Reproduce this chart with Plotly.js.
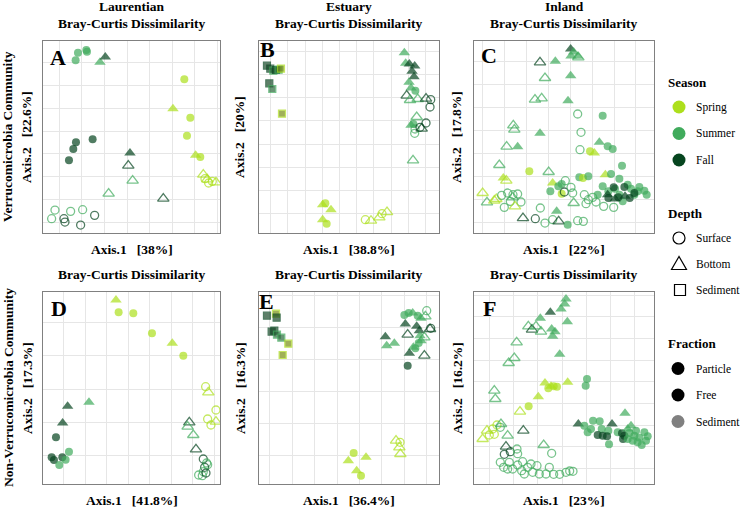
<!DOCTYPE html>
<html><head><meta charset="utf-8">
<script src="https://cdn.plot.ly/plotly-3.0.1.min.js"></script>
<style>html,body{margin:0;padding:0;background:#fff}#chart{width:740px;height:510px}</style>
</head><body><div id="chart"></div>
<script>
// Season codes: Sp = Spring, Su = Summer, Fa = Fall
// Kind codes: SP = Surface/Particle, BP = Bottom/Particle, SF = Surface/Free, BF = Bottom/Free, SD = Sediment
const A_x = [-0.166,-0.141,-0.139,-0.173,-0.100,-0.084,0.153,0.171,0.161,0.201,0.119,0.187,-0.172,-0.180,-0.122,-0.193,-0.010,-0.015,-0.002,-0.074,0.090,0.210,0.222,0.248,0.215,0.226,0.237,-0.235,-0.245,-0.188,-0.152,-0.208,-0.205,-0.158,-0.116];
const A_y = [0.256,0.264,0.259,0.233,0.227,0.243,0.176,0.061,0.007,-0.057,0.088,-0.052,-0.013,-0.033,-0.004,-0.067,-0.045,-0.083,-0.128,-0.167,-0.182,-0.110,-0.124,-0.133,-0.122,-0.135,-0.130,-0.216,-0.242,-0.220,-0.215,-0.242,-0.252,-0.261,-0.232];
const A_season = ['Su','Su','Su','Su','Su','Fa','Sp','Sp','Sp','Sp','Sp','Sp','Fa','Fa','Fa','Fa','Fa','Fa','Su','Su','Fa','Sp','Sp','Sp','Sp','Sp','Sp','Su','Su','Su','Su','Fa','Fa','Fa','Fa'];
const A_kind = ['SP','SP','SP','SP','BP','BP','SP','SP','SP','SP','BP','BP','SP','SP','SP','SP','BP','BF','BF','BF','BF','BF','BF','BF','SF','SF','SF','SF','SF','SF','SF','SF','SF','SF','SF'];

const B_x = [-0.247,-0.237,-0.228,-0.220,-0.212,-0.205,-0.240,-0.231,-0.202,0.165,0.169,0.180,0.196,0.188,0.194,0.179,0.198,0.185,0.172,0.182,0.205,0.230,0.244,0.242,0.202,0.185,0.192,0.197,0.196,0.230,0.217,0.212,0.191,-0.080,-0.072,-0.055,-0.080,-0.068,0.048,0.065,0.090,0.098,0.113];
const B_y = [0.217,0.208,0.202,0.204,0.205,0.208,0.164,0.147,0.073,0.256,0.224,0.222,0.216,0.200,0.184,0.167,0.142,0.150,0.127,0.114,0.117,0.118,0.115,0.093,0.063,0.038,0.042,0.027,0.014,0.045,0.028,0.032,-0.067,-0.200,-0.196,-0.215,-0.245,-0.257,-0.245,-0.248,-0.238,-0.227,-0.222];
const B_season = ['Fa','Fa','Su','Fa','Su','Sp','Fa','Su','Sp','Su','Su','Fa','Fa','Fa','Fa','Su','Su','Su','Fa','Su','Su','Fa','Fa','Fa','Su','Su','Su','Su','Su','Fa','Fa','Fa','Su','Sp','Sp','Sp','Sp','Sp','Sp','Sp','Sp','Sp','Sp'];
const B_kind = ['SD','SD','SD','SD','SD','SD','SD','SD','SD','BP','BP','BP','BP','BP','BP','BP','SP','BP','BF','BF','BF','BF','SF','SF','BF','BP','SP','SF','SF','SF','BF','SF','BF','BP','SP','BP','BP','SP','SF','BF','BF','SF','BF'];

const C_x = [0.019,0.028,0.020,0.040,0.042,-0.073,-0.027,-0.058,0.019,-0.088,-0.068,0.011,0.040,0.115,-0.153,-0.150,-0.073,0.050,-0.173,-0.140,0.047,0.105,0.130,0.145,0.077,0.090,-0.195,-0.105,-0.047,0.173,-0.183,-0.174,0.003,0.045,0.056,0.072,0.123,0.140,0.165,-0.035,-0.042,-0.018,-0.008,-0.008,0.000,0.020,0.025,0.115,0.132,0.152,0.190,0.200,0.220,0.240,0.247,0.225,0.210,0.165,0.100,0.175,0.148,0.180,0.162,0.196,0.210,0.130,0.182,0.152,0.132,0.060,0.072,0.095,0.118,0.148,0.065,0.085,0.028,-0.245,-0.232,-0.210,-0.204,-0.188,-0.170,-0.154,-0.140,-0.162,-0.180,-0.155,-0.130,-0.148,-0.124,-0.087,-0.072,-0.023,-0.035,-0.058,-0.017,0.010,0.040,0.057];
const C_y = [0.267,0.258,0.246,0.245,0.242,0.227,0.230,0.180,0.187,0.115,0.119,0.112,0.072,0.067,0.038,0.025,0.014,0.017,-0.026,-0.026,-0.035,-0.013,-0.025,-0.033,-0.040,-0.045,-0.081,-0.100,-0.102,-0.083,-0.120,-0.128,-0.128,-0.118,-0.120,-0.115,-0.110,-0.108,-0.122,-0.135,-0.160,-0.145,-0.138,-0.167,-0.162,-0.148,-0.165,-0.145,-0.160,-0.152,-0.140,-0.152,-0.160,-0.158,-0.170,-0.147,-0.170,-0.170,-0.170,-0.190,-0.148,-0.147,-0.178,-0.180,-0.165,-0.170,-0.175,-0.183,-0.180,-0.170,-0.185,-0.192,-0.205,-0.208,-0.197,-0.178,-0.195,-0.165,-0.193,-0.188,-0.183,-0.172,-0.165,-0.170,-0.168,-0.190,-0.208,-0.178,-0.192,-0.205,-0.240,-0.242,-0.210,-0.220,-0.245,-0.255,-0.250,-0.260,-0.248,-0.250];
const C_season = ['Fa','Su','Su','Su','Su','Fa','Su','Su','Su','Su','Su','Su','Su','Su','Su','Su','Su','Su','Su','Su','Su','Su','Su','Su','Sp','Sp','Su','Sp','Su','Su','Sp','Sp','Su','Su','Sp','Su','Sp','Su','Su','Sp','Su','Su','Su','Sp','Fa','Su','Su','Su','Su','Su','Su','Su','Su','Su','Su','Su','Su','Su','Su','Su','Fa','Fa','Fa','Fa','Fa','Fa','Fa','Fa','Fa','Su','Su','Su','Su','Su','Su','Su','Su','Sp','Su','Sp','Sp','Su','Su','Su','Su','Su','Su','Su','Su','Sp','Fa','Fa','Su','Su','Su','Su','Fa','Su','Su','Su'];
const C_kind = ['BP','BP','BP','BP','BF','BF','BP','BF','BP','BF','BF','BP','SF','SP','BF','BF','BP','SF','BF','BP','SF','BP','SP','SP','SP','BP','BF','SP','BF','SP','BP','BF','SF','SP','SP','SP','BP','SP','SP','BP','SP','SP','SP','SP','SF','SF','SF','SP','SP','SP','SP','SP','SP','SP','SP','SP','SP','SP','SP','SP','SP','SP','SP','SP','SP','BP','BP','BP','SP','SF','SF','SF','SF','SF','SF','SF','BF','BF','BF','BF','BF','SF','SF','SF','SF','SF','SF','BF','SF','BF','BF','SF','SF','BP','SF','SF','BF','SP','SF','SF'];

const D_x = [-0.052,-0.044,0.000,0.056,0.117,0.150,0.217,0.225,0.248,0.223,0.233,0.248,-0.133,-0.197,-0.212,-0.232,-0.245,-0.238,-0.213,-0.193,-0.203,-0.222,0.168,0.163,0.180,0.188,0.210,0.220,0.214,0.210,0.196,0.207,0.218,0.223];
const D_y = [0.267,0.230,0.227,0.167,0.137,0.100,0.007,-0.010,-0.063,-0.090,-0.108,-0.098,-0.040,-0.052,-0.102,-0.145,-0.205,-0.213,-0.205,-0.188,-0.212,-0.228,-0.100,-0.113,-0.138,-0.181,-0.210,-0.222,-0.235,-0.248,-0.258,-0.260,-0.252,-0.227];
const D_season = ['Sp','Sp','Sp','Sp','Sp','Sp','Sp','Sp','Sp','Sp','Sp','Sp','Su','Fa','Fa','Fa','Fa','Fa','Fa','Su','Su','Su','Fa','Su','Su','Fa','Fa','Su','Fa','Su','Su','Su','Fa','Su'];
const D_kind = ['BP','SP','SP','SP','BP','SP','SF','BF','SF','SF','SF','BF','BP','BP','BP','SP','SP','SP','SP','SP','SP','SP','BF','BF','BF','BF','SF','SF','SF','SF','SF','SF','SF','SF'];

const E_x = [-0.247,-0.220,-0.218,-0.233,-0.225,-0.217,-0.204,-0.183,-0.200,0.165,0.178,0.190,0.205,0.215,0.232,0.228,0.168,0.202,0.210,0.175,0.242,0.244,0.212,0.225,0.215,0.208,0.108,0.112,0.135,0.192,0.180,0.225,0.175,0.198,0.013,-0.003,0.050,0.022,0.035,0.140,0.152,0.150,0.153];
const E_y = [0.220,0.226,0.214,0.172,0.175,0.163,0.154,0.136,0.102,0.222,0.228,0.228,0.220,0.212,0.235,0.218,0.195,0.188,0.175,0.163,0.180,0.182,0.160,0.155,0.145,0.138,0.157,0.130,0.137,0.125,0.107,0.100,0.070,0.122,-0.192,-0.215,-0.205,-0.245,-0.260,-0.155,-0.160,-0.175,-0.195];
const E_season = ['Fa','Sp','Fa','Fa','Fa','Su','Su','Sp','Sp','Su','Su','Su','Su','Su','Su','Su','Fa','Fa','Fa','Fa','Fa','Fa','Su','Su','Su','Su','Fa','Su','Su','Su','Fa','Fa','Fa','Su','Sp','Sp','Sp','Sp','Sp','Sp','Sp','Sp','Sp'];
const E_kind = ['SD','SD','SD','SD','SD','SD','SD','SD','SD','SP','SP','BP','SP','BP','SF','BF','BP','BP','BP','BF','BF','SF','BP','BF','BP','SP','BP','BP','BP','BP','BP','BF','SP','SP','SP','BP','BP','BP','SP','BF','SF','BF','BF'];

const F_x = [0.005,0.001,-0.010,0.009,-0.042,-0.072,-0.038,-0.028,-0.035,-0.014,-0.108,-0.097,-0.070,-0.085,-0.143,-0.150,-0.167,-0.058,-0.040,0.010,-0.048,-0.032,-0.022,0.068,0.064,-0.078,-0.107,-0.133,-0.210,-0.207,-0.245,-0.232,-0.215,-0.202,-0.210,-0.225,-0.190,-0.192,-0.170,-0.123,-0.062,-0.175,-0.180,-0.162,-0.142,-0.140,-0.038,-0.192,-0.182,-0.165,-0.155,-0.140,-0.125,-0.128,-0.110,-0.095,-0.082,-0.075,-0.055,-0.045,-0.032,-0.014,0.005,0.016,0.026,-0.100,-0.120,-0.170,0.042,0.060,0.070,0.086,0.106,0.112,0.132,0.134,0.160,0.100,0.115,0.128,0.173,0.176,0.180,0.143,0.182,0.200,0.195,0.210,0.225,0.240,0.245,0.220,0.205,0.190,0.232,0.250,0.215,0.190,0.080];
const F_y = [0.270,0.255,0.240,0.202,0.230,0.212,0.180,0.172,0.158,0.104,0.188,0.178,0.172,0.188,0.140,0.093,0.078,0.018,0.008,0.020,0.002,0.008,0.007,0.030,0.010,-0.023,-0.052,-0.068,-0.005,-0.030,-0.150,-0.125,-0.120,-0.108,-0.136,-0.138,-0.105,-0.115,-0.140,-0.125,-0.168,-0.173,-0.196,-0.188,-0.180,-0.194,-0.193,-0.220,-0.235,-0.220,-0.240,-0.228,-0.218,-0.245,-0.235,-0.250,-0.230,-0.255,-0.255,-0.235,-0.256,-0.256,-0.250,-0.246,-0.247,-0.225,-0.255,-0.240,-0.105,-0.110,-0.130,-0.095,-0.097,-0.120,-0.125,-0.166,-0.130,-0.138,-0.140,-0.142,-0.133,-0.150,-0.140,-0.105,-0.073,-0.110,-0.132,-0.140,-0.146,-0.130,-0.155,-0.160,-0.155,-0.150,-0.168,-0.142,-0.125,-0.120,-0.120];
const F_season = ['Su','Su','Su','Su','Fa','Su','Su','Su','Su','Su','Su','Fa','Su','Su','Su','Su','Su','Sp','Sp','Sp','Sp','Sp','Sp','Su','Su','Sp','Sp','Sp','Su','Su','Sp','Sp','Sp','Sp','Sp','Sp','Su','Su','Su','Fa','Su','Fa','Fa','Fa','Su','Su','Su','Su','Su','Su','Su','Su','Su','Su','Su','Su','Su','Su','Su','Su','Su','Su','Su','Su','Su','Su','Su','Su','Fa','Su','Su','Su','Su','Su','Su','Su','Su','Fa','Fa','Fa','Fa','Fa','Fa','Fa','Su','Su','Su','Su','Su','Su','Su','Su','Su','Su','Su','Su','Su','Su','Su'];
const F_kind = ['BP','BP','BP','BP','BP','BP','BP','BP','BP','BP','BF','BF','BF','BF','BF','BF','BF','BP','BP','BP','SP','SP','SP','SP','SP','BP','SP','BF','BF','BF','BF','BF','SF','SF','SF','SF','BF','SF','BF','BF','BF','BF','SF','SF','SF','SF','SF','SF','SF','SF','SF','SF','SF','SF','SF','SF','SF','SF','SF','SF','SF','SF','SF','SF','SF','SF','SF','SF','BP','SP','SP','SP','SP','SP','SP','SP','SP','SP','SP','SP','SP','SP','SP','BP','BP','BP','SP','SP','SP','SP','SP','SP','SP','SP','SP','SP','SP','BP','SP'];

const axisTitles = {
  A:['Axis.1   [38%]','Axis.2   [22.6%]'], B:['Axis.1   [38.8%]','Axis.2   [20%]'], C:['Axis.1   [22%]','Axis.2   [17.8%]'],
  D:['Axis.1   [41.8%]','Axis.2   [17.3%]'], E:['Axis.1   [36.4%]','Axis.2   [16.3%]'], F:['Axis.1   [23%]','Axis.2   [16.2%]']
};
const columnNames = ['Laurentian','Estuary','Inland'];
const rowNames = ['Verrucomicrobia Community','Non-Verrucomicrobia Community'];
const seasonLabels = ['Spring','Summer','Fall'];
const depthLabels = ['Surface','Bottom','Sediment'];
const fractionLabels = ['Particle','Free','Sediment'];

// ---- styling ----
const W = 740, H = 510;
const px = v => v / W, py = v => 1 - v / H;
const FONT = '"Liberation Serif", "Times New Roman", Times, serif';
const seasonColor = {Sp:'#addf1c', Su:'#40ab5c', Fa:'#06451f'};
const sedFill = {Sp:'#788f14', Su:'#2b6a3c', Fa:'#1b4a2b'};
const kindStyle = {
  SP:{sym:'circle', size:8, lw:0},
  BP:{sym:'triangle-up', size:10, lw:0},
  SF:{sym:'circle-open', size:8, lw:1.3},
  BF:{sym:'triangle-up-open', size:10, lw:1.3},
  SD:{sym:'square', size:7, lw:1.2}
};

const panels = [
  {id:'A', x:A_x, y:A_y, s:A_season, k:A_kind, box:[43.3,220.3,41.3,232.7], xr:[-0.270,0.261], yr:[-0.284,0.290], gx:[-0.222,0.0677], gy:[0.227,0.0687], lab:[57.5,57]},
  {id:'B', x:B_x, y:B_y, s:B_season, k:B_kind, box:[259.3,438.7,41.3,232.7], xr:[-0.270,0.268], yr:[-0.284,0.290], gx:[-0.236,0.0516], gy:[0.259,0.0693], lab:[267,50]},
  {id:'C', x:C_x, y:C_y, s:C_season, k:C_kind, box:[474.3,653.7,41.3,232.7], xr:[-0.270,0.268], yr:[-0.284,0.290], gx:[-0.245,0.0657], gy:[0.229,0.069], lab:[489,55.5]},
  {id:'D', x:D_x, y:D_y, s:D_season, k:D_kind, box:[43.3,220.3,292,484], xr:[-0.270,0.261], yr:[-0.285,0.291], gx:[-0.208,0.0643], gy:[0.200,0.100], lab:[59,308]},
  {id:'E', x:E_x, y:E_y, s:E_season, k:E_kind, box:[259.3,438.7,292,484], xr:[-0.270,0.268], yr:[-0.285,0.291], gx:[-0.238,0.067], gy:[0.185,0.096], lab:[266,301]},
  {id:'F', x:F_x, y:F_y, s:F_season, k:F_kind, box:[474.3,653.7,292,484], xr:[-0.270,0.268], yr:[-0.285,0.291], gx:[-0.225,0.0727], gy:[0.217,0.065], lab:[489,308]}
];

const data = [];
const layout = {
  width: W, height: H, margin:{l:0,r:0,t:0,b:0},
  paper_bgcolor:'#fff', plot_bgcolor:'#fff', showlegend:false,
  font:{family:FONT, color:'#000'},
  annotations:[], shapes:[]
};
function ann(text, x, y, size, extra){
  layout.annotations.push(Object.assign({text:text, x:px(x), y:py(y), xref:'paper', yref:'paper',
    showarrow:false, xanchor:'center', yanchor:'middle', font:{family:FONT, size:size, color:'#000'}}, extra||{}));
}

panels.forEach((p, i) => {
  const n = i + 1, xa = 'x' + (n > 1 ? n : ''), ya = 'y' + (n > 1 ? n : '');
  const sym = [], size = [], col = [], lcol = [], lw = [];
  p.k.forEach((k, j) => {
    const st = kindStyle[k], s = p.s[j];
    sym.push(st.sym); size.push(st.size); lw.push(st.lw);
    col.push(k === 'SD' ? sedFill[s] : seasonColor[s]);
    lcol.push(seasonColor[s]);
  });
  data.push({type:'scatter', mode:'markers', x:p.x, y:p.y, xaxis:xa, yaxis:ya, hoverinfo:'skip',
    marker:{symbol:sym, size:size, color:col, line:{color:lcol, width:lw}}});
  const common = {showticklabels:false, ticks:'', zeroline:false, showline:true, mirror:true,
    linecolor:'#808080', linewidth:1, showgrid:true, gridcolor:'#e6e6e6', gridwidth:1, fixedrange:true, tickmode:'linear'};
  layout['xaxis' + (n > 1 ? n : '')] = Object.assign({}, common, {domain:[px(p.box[0]), px(p.box[1])], range:p.xr, anchor:ya, tick0:p.gx[0], dtick:p.gx[1]});
  layout['yaxis' + (n > 1 ? n : '')] = Object.assign({}, common, {domain:[py(p.box[3]), py(p.box[2])], range:p.yr, anchor:xa, tick0:p.gy[0], dtick:p.gy[1]});
  // panel letter
  ann('<b>' + p.id + '</b>', p.lab[0], p.lab[1], 22);
  // axis titles
  const cx = (p.box[0] + p.box[1]) / 2, cy = (p.box[2] + p.box[3]) / 2;
  ann('<b>' + axisTitles[p.id][0] + '</b>', cx, p.box[3] + 16.5, 13.5);
  const ytx = [27, 240, 457][i % 3];
  ann('<b>' + axisTitles[p.id][1] + '</b>', ytx, cy, 13.5, {textangle:-90});
  // header
  ann('<b>Bray-Curtis Dissimilarity</b>', cx, p.box[2] - 18, 13.5);
  if (i < 3) ann('<b>' + columnNames[i] + '</b>', cx, p.box[2] - 35, 13.5);
  if (i % 3 === 0) ann('<b>' + rowNames[i / 3] + '</b>', 8, cy, 13.5, {textangle:-90});
});

// ---- legend (drawn as annotations + shapes) ----
function circ(cx, cy, r, fill, line, lw){
  layout.shapes.push({type:'circle', xref:'paper', yref:'paper', x0:px(cx - r), x1:px(cx + r), y0:py(cy + r), y1:py(cy - r),
    fillcolor:fill, line:{color:line, width:lw}});
}
function legTitle(t, y){ ann('<b>' + t + '</b>', 666, y, 13, {xanchor:'left'}); }
function legText(t, y){ ann(t, 694, y, 11.5, {xanchor:'left'}); }
legTitle('Season', 83);
['Sp','Su','Fa'].forEach((s, i) => { const y = 107 + i * 26.5; circ(679, y, 6.5, seasonColor[s], seasonColor[s], 0); legText(seasonLabels[i], y); });
legTitle('Depth', 213);
circ(679, 238, 6, 'rgba(0,0,0,0)', '#000', 1.2); legText(depthLabels[0], 238);
layout.shapes.push({type:'path', xref:'paper', yref:'paper', line:{color:'#000', width:1.2},
  path:'M ' + px(679) + ',' + py(256.5) + ' L ' + px(671.5) + ',' + py(269.5) + ' L ' + px(686.5) + ',' + py(269.5) + ' Z'});
legText(depthLabels[1], 264);
layout.shapes.push({type:'rect', xref:'paper', yref:'paper', x0:px(674.5), x1:px(685.5), y0:py(295.5), y1:py(284.5), line:{color:'#000', width:1.2}});
legText(depthLabels[2], 290);
legTitle('Fraction', 343);
['#000','#000','#808080'].forEach((c, i) => { const y = 368.5 + i * 26.5; circ(678, y, 6.5, c, c, 0); legText(fractionLabels[i], y); });

Plotly.newPlot('chart', data, layout, {staticPlot:true, displayModeBar:false});
</script></body></html>
